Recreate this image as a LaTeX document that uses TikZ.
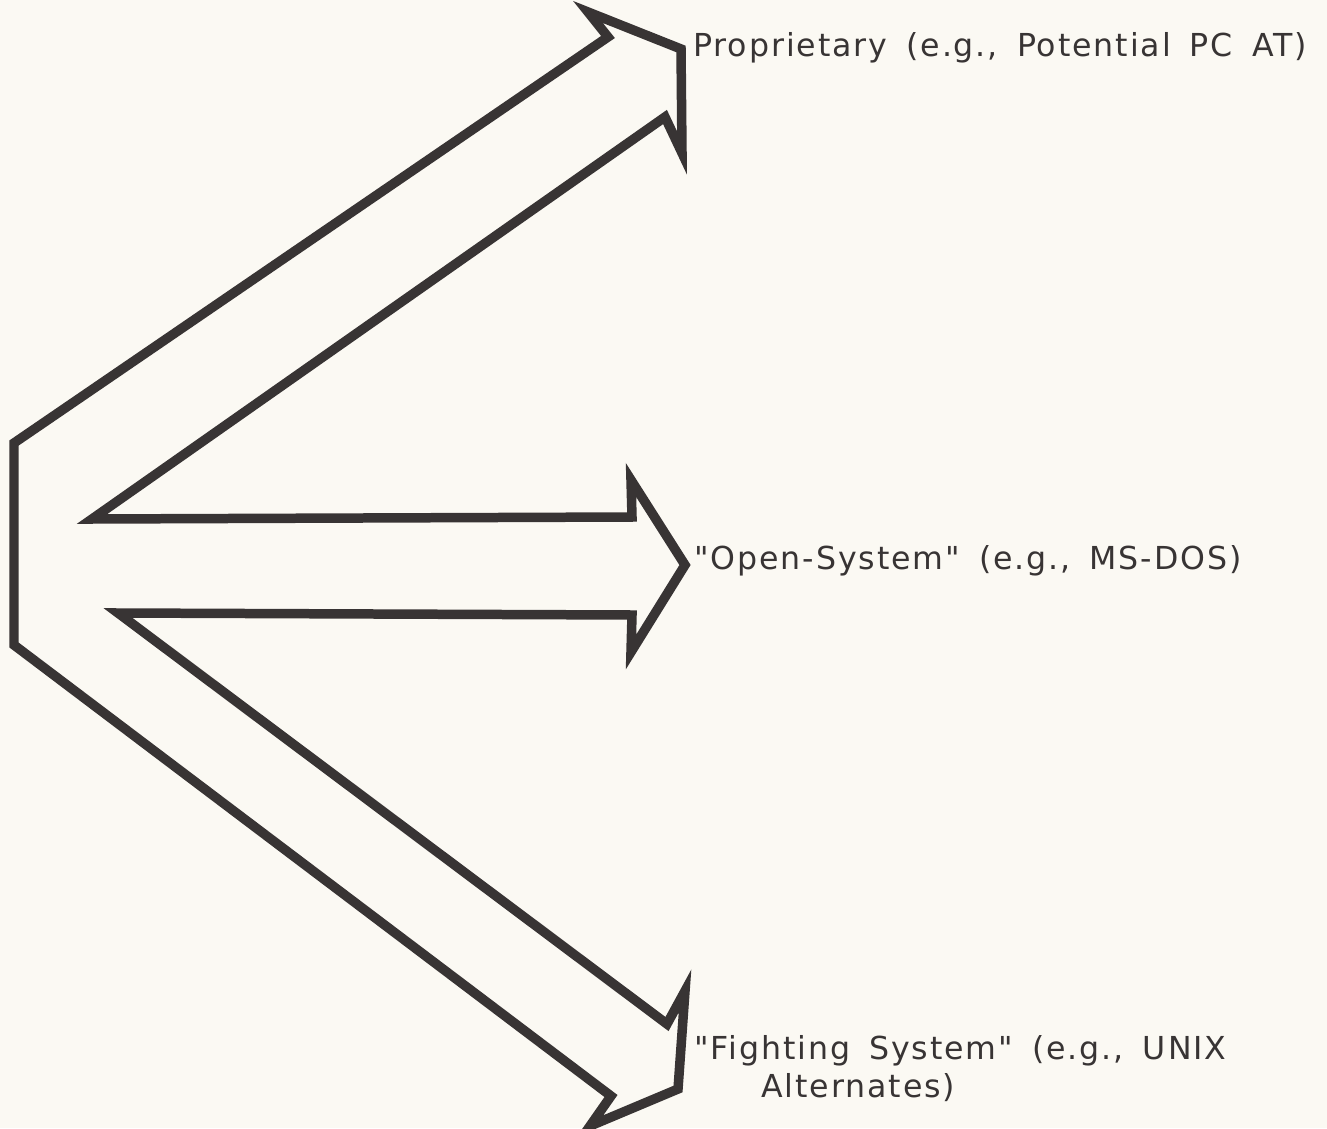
\documentclass[tikz,border=0pt]{standalone}
\usepackage{fontspec}
\setmainfont{DejaVu Sans}[LetterSpace=6, WordSpace=1.6, Ligatures=TeXOff]
\usepackage{xcolor}
\usepackage{tikz}
\usetikzlibrary{positioning}
\definecolor{mydark}{RGB}{56,52,52}
\definecolor{mypaper}{RGB}{251,249,243}
\tikzset{
  outline/.style={line width=0.19cm, draw=mydark, line join=miter, miter limit=12},
  choicetext/.style={anchor=base west, inner sep=0pt, text=mydark,
    font=\fontsize{18}{21.6}\selectfont, align=left}
}

\begin{document}
\begin{tikzpicture}[x=0.02cm, y=-0.02cm]
  % Paper
  \fill[mypaper] (0,0) rectangle (1327,1128);
  \useasboundingbox (0,0) rectangle (1327,1128);

  % Coordinates
  \coordinate (left_top) at (14,443);
  \coordinate (left_bot) at (14,645);
  \coordinate (V_up) at (92,519);
  \coordinate (V_low) at (118,613);
  % upper head
  \coordinate (up_notch_a) at (608,37);
  \coordinate (up_barb_a) at (588,12);
  \coordinate (up_tip) at (681,49);
  \coordinate (up_barb_b) at (682,153);
  \coordinate (up_notch_b) at (665,117);
  % middle head
  \coordinate (mid_notch_a) at (632,517);
  \coordinate (mid_barb_a) at (631,480);
  \coordinate (mid_tip) at (685,565);
  \coordinate (mid_barb_b) at (631,652);
  \coordinate (mid_notch_b) at (632,615);
  % lower head
  \coordinate (low_notch_a) at (667,1024);
  \coordinate (low_barb_a) at (685,991);
  \coordinate (low_tip) at (678,1089);
  \coordinate (low_barb_b) at (590,1126);
  \coordinate (low_notch_b) at (611,1096);

  % Split arrow outline
  \draw[outline] (left_top) -- (up_notch_a) -- (up_barb_a) -- (up_tip)
    -- (up_barb_b) -- (up_notch_b) -- (V_up) -- (mid_notch_a) -- (mid_barb_a)
    -- (mid_tip) -- (mid_barb_b) -- (mid_notch_b) -- (V_low) -- (low_notch_a)
    -- (low_barb_a) -- (low_tip) -- (low_barb_b) -- (low_notch_b)
    -- (left_bot) -- cycle;

  % Choices
  \node[choicetext] (prop) at (693,57) {Proprietary (e.g., Potential PC AT)};
  \node[choicetext] (open) at (694,569) {"Open-System" (e.g., MS-DOS)};
  \node[choicetext] (fight) at (694,1097) {"Fighting System" (e.g., UNIX\\\hspace*{1.34cm}Alternates)};
\end{tikzpicture}
\end{document}
